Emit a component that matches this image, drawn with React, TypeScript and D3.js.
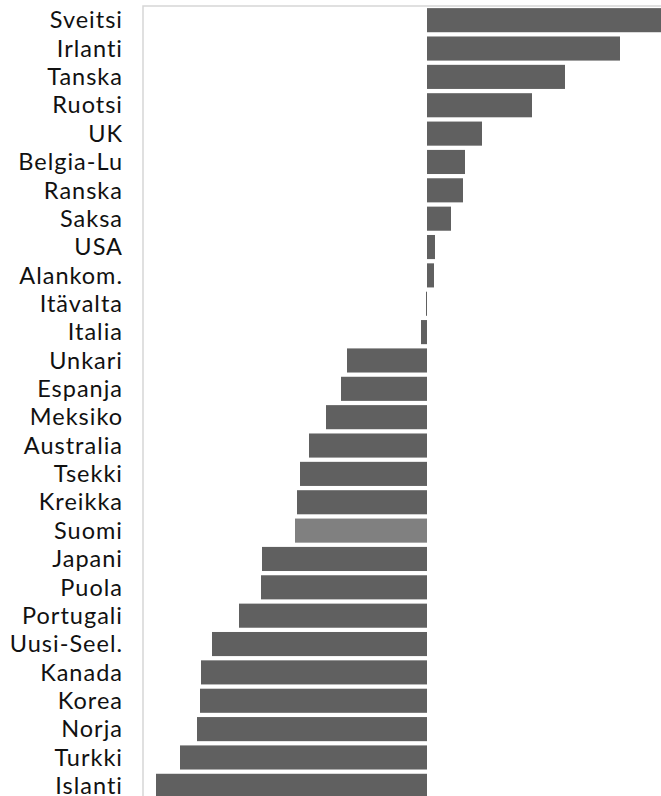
import React from 'react';
import * as d3 from 'd3';

const countries = [
  'Sveitsi', 'Irlanti', 'Tanska', 'Ruotsi', 'UK', 'Belgia-Lu', 'Ranska', 'Saksa', 'USA', 'Alankom.',
  'Itävalta', 'Italia', 'Unkari', 'Espanja', 'Meksiko', 'Australia', 'Tsekki', 'Kreikka', 'Suomi',
  'Japani', 'Puola', 'Portugali', 'Uusi-Seel.', 'Kanada', 'Korea', 'Norja', 'Turkki', 'Islanti',
];
const values = [
  24.0, 19.3, 13.8, 10.5, 5.5, 3.8, 3.6, 2.4, 0.8, 0.7,
  -0.1, -0.6, -8.0, -8.6, -10.1, -11.8, -12.7, -13.0, -13.2,
  -16.5, -16.6, -18.8, -21.5, -22.6, -22.7, -23.0, -24.7, -27.1,
];
const highlight = 'Suomi';

const W = 661;
const H = 796;

export default function App() {
  const plot = { left: 143, top: 6, right: 677, bottom: 800 };

  const x = d3.scaleLinear().domain([-28.4, 25]).range([plot.left, plot.right]);
  const y = d3
    .scaleBand<string>()
    .domain(countries)
    .range([plot.top, plot.bottom])
    .paddingInner(0.15)
    .paddingOuter(0.075);

  return (
    <svg
      width={W}
      height={H}
      style={{ position: 'absolute', left: 0, top: 0, overflow: 'hidden' }}
      fontFamily="Lato, sans-serif"
    >
      <rect width={W} height={H} fill="#fff" />
      {/* plot frame, only top and left visible */}
      <path
        d={`M${plot.left},${plot.bottom} V${plot.top} H${plot.right}`}
        fill="none"
        stroke="#d6d6d6"
        strokeWidth={1.5}
      />
      {countries.map((c, i) => {
        const v = values[i];
        const x0 = x(Math.min(0, v));
        const x1 = x(Math.max(0, v));
        return (
          <rect
            key={c}
            x={x0}
            y={y(c)}
            width={Math.max(1, x1 - x0)}
            height={y.bandwidth()}
            fill={c === highlight ? '#808080' : '#606060'}
          />
        );
      })}
      {countries.map((c) => (
        <text
          key={c}
          x={123}
          y={(y(c) ?? 0) + y.bandwidth() / 2}
          dy="0.35em"
          textAnchor="end"
          fontSize={23.5}
          letterSpacing={1}
          fill="#111"
        >
          {c}
        </text>
      ))}
    </svg>
  );
}
